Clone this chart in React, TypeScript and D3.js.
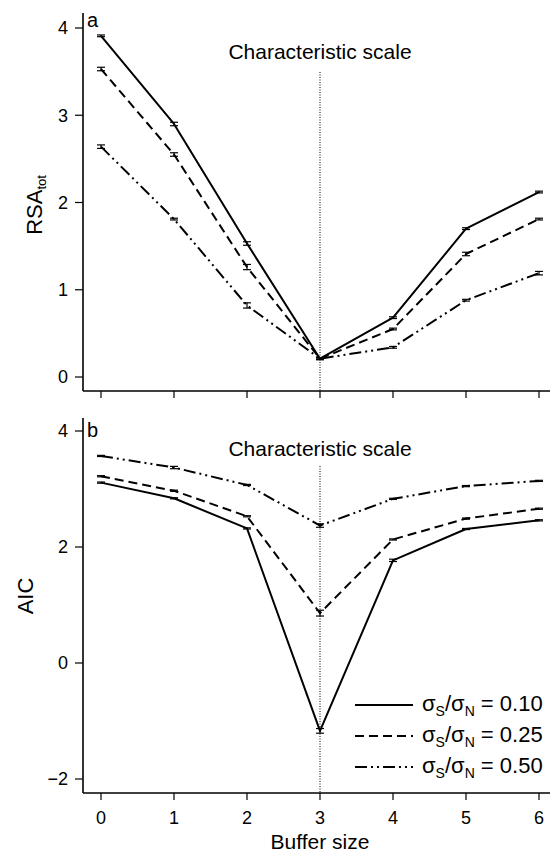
import React, { useEffect, useRef } from "react";
import * as d3 from "d3";

const bufferSizes = [0, 1, 2, 3, 4, 5, 6];
const ratios = ["0.10", "0.25", "0.50"];
const rsa010 = [3.91, 2.9, 1.53, 0.21, 0.68, 1.7, 2.12];
const rsa025 = [3.53, 2.55, 1.26, 0.21, 0.55, 1.41, 1.81];
const rsa050 = [2.64, 1.81, 0.82, 0.21, 0.34, 0.88, 1.19];
const rsaErr010 = [0.01, 0.02, 0.02, 0.01, 0.01, 0.01, 0.01];
const rsaErr025 = [0.02, 0.02, 0.03, 0.01, 0.01, 0.02, 0.01];
const rsaErr050 = [0.02, 0.01, 0.03, 0.01, 0.01, 0.01, 0.02];
const aic010 = [3.11, 2.84, 2.32, -1.17, 1.77, 2.31, 2.46];
const aic025 = [3.22, 2.97, 2.53, 0.86, 2.13, 2.49, 2.66];
const aic050 = [3.57, 3.37, 3.07, 2.37, 2.83, 3.05, 3.14];
const aicErr010 = [0.01, 0.01, 0.01, 0.04, 0.02, 0.01, 0.01];
const aicErr025 = [0.01, 0.01, 0.01, 0.05, 0.01, 0.01, 0.01];
const aicErr050 = [0.01, 0.02, 0.01, 0.03, 0.01, 0.01, 0.01];
const xTicks = [0, 1, 2, 3, 4, 5, 6];
const rsaTicks = [0, 1, 2, 3, 4];
const aicTicks = [-2, 0, 2, 4];
const charScale = 3;

const dashes = [null, "9,5", "12,4,2,4,2,4"];
const FONT = "'Liberation Sans', Arial, Helvetica, sans-serif";

export default function App() {
  const ref = useRef<SVGSVGElement>(null);
  useEffect(() => {
    const svg = d3.select(ref.current);
    svg.selectAll("*").remove();
    const x = d3.scaleLinear().domain([0, 6]).range([101, 539]);
    const axisLeftX = 83;
    const rightEdge = 550;

    const panels = [
      {
        y: d3.scaleLinear().domain([0, 4]).range([377, 28]),
        top: 13,
        bottom: 391,
        ticks: rsaTicks,
        series: [rsa010, rsa025, rsa050],
        errs: [rsaErr010, rsaErr025, rsaErr050],
        letter: "a",
        letterY: 27,
        csY: 59,
        dotTop: 72,
      },
      {
        y: d3.scaleLinear().domain([-2, 4]).range([779, 431]),
        top: 418,
        bottom: 793,
        ticks: aicTicks,
        series: [aic010, aic025, aic050],
        errs: [aicErr010, aicErr025, aicErr050],
        letter: "b",
        letterY: 437,
        csY: 456,
        dotTop: 466,
      },
    ];

    panels.forEach((p) => {
      const g = svg.append("g");
      g.append("line")
        .attr("x1", axisLeftX).attr("x2", axisLeftX)
        .attr("y1", p.top).attr("y2", p.bottom)
        .attr("stroke", "#000").attr("stroke-width", 1.6);
      g.append("line")
        .attr("x1", axisLeftX).attr("x2", rightEdge)
        .attr("y1", p.bottom).attr("y2", p.bottom)
        .attr("stroke", "#000").attr("stroke-width", 1.6);
      p.ticks.forEach((t) => {
        g.append("line")
          .attr("x1", axisLeftX - 8).attr("x2", axisLeftX)
          .attr("y1", p.y(t)).attr("y2", p.y(t))
          .attr("stroke", "#000").attr("stroke-width", 1.2);
        g.append("text")
          .attr("x", axisLeftX - 15).attr("y", p.y(t))
          .attr("dy", "0.36em")
          .attr("text-anchor", "end")
          .attr("font-family", FONT).attr("font-size", 18)
          .text(t < 0 ? "\u2212" + Math.abs(t) : String(t));
      });
      xTicks.forEach((t) => {
        g.append("line")
          .attr("x1", x(t)).attr("x2", x(t))
          .attr("y1", p.bottom).attr("y2", p.bottom + 7)
          .attr("stroke", "#000").attr("stroke-width", 1.2);
      });
      g.append("line")
        .attr("x1", x(charScale)).attr("x2", x(charScale))
        .attr("y1", p.dotTop).attr("y2", p.bottom)
        .attr("stroke", "#000").attr("stroke-width", 1)
        .attr("stroke-dasharray", "1,1.5");
      g.append("text")
        .attr("x", x(charScale)).attr("y", p.csY)
        .attr("text-anchor", "middle")
        .attr("font-family", FONT).attr("font-size", 21)
        .text("Characteristic scale");
      g.append("text")
        .attr("x", axisLeftX + 4).attr("y", p.letterY)
        .attr("font-family", FONT).attr("font-size", 20)
        .text(p.letter);
      p.series.forEach((vals, i) => {
        const line = d3.line<number>()
          .x((_, j) => x(bufferSizes[j]))
          .y((d) => p.y(d));
        const path = g.append("path")
          .attr("d", line(vals))
          .attr("fill", "none")
          .attr("stroke", "#000")
          .attr("stroke-width", 2)
          .attr("stroke-linejoin", "round");
        if (dashes[i]) path.attr("stroke-dasharray", dashes[i] as string);
        vals.forEach((v, j) => {
          const e = p.errs[i][j];
          [v - e, v + e].forEach((yy) => {
            g.append("line")
              .attr("x1", x(bufferSizes[j]) - 4).attr("x2", x(bufferSizes[j]) + 4)
              .attr("y1", p.y(yy)).attr("y2", p.y(yy))
              .attr("stroke", "#000").attr("stroke-width", 1.2);
          });
          g.append("line")
            .attr("x1", x(bufferSizes[j])).attr("x2", x(bufferSizes[j]))
            .attr("y1", p.y(v - e)).attr("y2", p.y(v + e))
            .attr("stroke", "#000").attr("stroke-width", 1.2);
        });
      });
    });

    xTicks.forEach((t) => {
      svg.append("text")
        .attr("x", x(t)).attr("y", 824)
        .attr("text-anchor", "middle")
        .attr("font-family", FONT).attr("font-size", 18)
        .text(String(t));
    });
    svg.append("text")
      .attr("x", x(charScale)).attr("y", 849)
      .attr("text-anchor", "middle")
      .attr("font-family", FONT).attr("font-size", 21)
      .text("Buffer size");

    const rsa = svg.append("text")
      .attr("transform", "translate(42,205) rotate(-90)")
      .attr("text-anchor", "middle")
      .attr("font-family", FONT).attr("font-size", 22);
    rsa.append("tspan").text("RSA");
    rsa.append("tspan").attr("font-size", 13).attr("dy", 4).text("tot");
    svg.append("text")
      .attr("transform", "translate(33,596) rotate(-90)")
      .attr("text-anchor", "middle")
      .attr("font-family", FONT).attr("font-size", 22)
      .text("AIC");

    const legY = [705, 736, 767];
    ratios.forEach((r, i) => {
      const l = svg.append("line")
        .attr("x1", 355).attr("x2", 413)
        .attr("y1", legY[i]).attr("y2", legY[i])
        .attr("stroke", "#000").attr("stroke-width", 2);
      if (dashes[i]) l.attr("stroke-dasharray", dashes[i] as string);
      const t = svg.append("text")
        .attr("x", 422).attr("y", legY[i] + 6)
        .attr("font-family", FONT).attr("font-size", 22);
      t.append("tspan").text("\u03C3");
      t.append("tspan").attr("font-size", 14).attr("dy", 5).text("S");
      t.append("tspan").attr("dy", -5).text("/\u03C3");
      t.append("tspan").attr("font-size", 14).attr("dy", 5).text("N");
      t.append("tspan").attr("dy", -5).text(" = " + r);
    });
  }, []);
  return (
    <svg
      ref={ref}
      width={550}
      height={854}
      style={{ position: "absolute", left: 0, top: 0, background: "#fff" }}
    />
  );
}
